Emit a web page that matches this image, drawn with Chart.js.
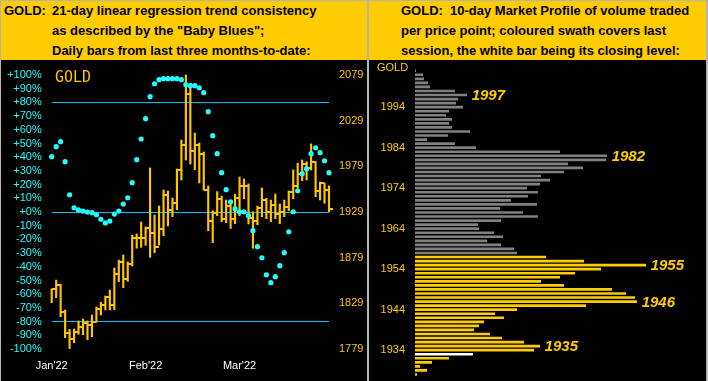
<!DOCTYPE html>
<html><head><meta charset="utf-8">
<script src="https://cdn.jsdelivr.net/npm/chart.js@4/dist/chart.umd.min.js"></script>
<style>
html,body{margin:0;padding:0;background:#b4b4b4;width:708px;height:381px;overflow:hidden;position:relative;font-family:"Liberation Sans",Arial,sans-serif;}
.blk{position:absolute;background:#000;}
.hdr{position:absolute;background:#FFCC00;}
.ht{position:absolute;white-space:pre;font:bold 13px "Liberation Sans",Arial,sans-serif;color:#000;line-height:20px;}
canvas{position:absolute;}
.gold{position:absolute;white-space:pre;}
</style></head>
<body>
<div class="blk" style="left:1px;top:1px;width:366px;height:380px;"></div>
<div class="blk" style="left:369px;top:1px;width:337px;height:380px;"></div>
<div class="hdr" style="left:1px;top:1px;width:366px;height:59px;"></div>
<div class="hdr" style="left:369px;top:1px;width:337px;height:59px;"></div>
<div class="ht" style="left:4px;top:1px;">GOLD:</div>
<div class="ht" style="left:52px;top:1px;">21-day linear regression trend consistency</div>
<div class="ht" style="left:52px;top:21px;">as described by the "Baby Blues";</div>
<div class="ht" style="left:52px;top:41px;">Daily bars from last three months-to-date:</div>
<div class="ht" style="left:401px;top:1px;">GOLD:</div>
<div class="ht" style="left:450px;top:1px;">10-day Market Profile of volume traded</div>
<div class="ht" style="left:401px;top:21px;">per price point; coloured swath covers last</div>
<div class="ht" style="left:401px;top:41px;">session, the white bar being its closing level:</div>
<canvas id="cl" width="366" height="321" style="left:1px;top:60px;"></canvas>
<canvas id="cr" width="337" height="321" style="left:369px;top:60px;"></canvas>
<div class="gold" style="left:55px;top:69px;font:15px 'DejaVu Sans Mono',monospace;line-height:16px;color:#FFC400;">GOLD</div>
<div class="gold" style="left:377px;top:60px;font:11px 'Liberation Sans',Arial,sans-serif;line-height:14px;color:#FFCC00;">GOLD</div>
<script>
// ---------- Left chart data ----------
const monthLabels = ["Jan'22", "Feb'22", "Mar'22"];
const monthStartIdx = [0, 21, 42];
const highs = [1844.7,1854.5,1849.8,1821.7,1800.5,1800.9,1809.7,1811.8,1809.7,1816.2,
  1825.0,1830.1,1837.0,1843.6,1867.7,1876.4,1881.9,1874.3,1903.5,1904.9,
  1918.0,1912.6,1977.2,1925.7,1935.6,1953.1,1952.0,1944.3,1976.1,2007.8,
  2079.0,2069.1,2015.5,2004.5,1994.7,1957.5,1930.4,1951.3,1946.5,1942.1,
  1940.3,1948.4,1967.3,1965.1,1959.7,1929.3,1935.6,1955.3,1944.0,1942.1,
  1948.7,1937.8,1942.1,1952.0,1975.0,1982.6,1985.9,1984.1,2003.5,1984.3,
  1961.8,1960.8,1957.5];
const lows = [1829.7,1835.2,1814.4,1791.4,1779.4,1785.9,1795.1,1794.7,1789.2,1792.5,
  1808.2,1816.2,1821.7,1821.7,1822.0,1852.7,1846.1,1853.1,1869.9,1889.3,
  1890.3,1892.5,1879.4,1884.4,1892.9,1903.1,1913.7,1923.9,1931.5,1964.0,
  1985.9,1981.6,1975.3,1960.8,1953.1,1908.5,1895.4,1925.0,1918.4,1917.3,
  1911.1,1916.2,1925.0,1943.6,1915.9,1889.3,1915.1,1923.9,1921.7,1918.4,
  1921.7,1916.2,1923.9,1930.4,1943.6,1955.6,1963.3,1964.0,1975.0,1945.8,
  1942.1,1938.5,1929.3];
const closes = [1844.4,1848.7,1819.8,1796.9,1790.3,1797.9,1802.8,1807.8,1805.6,1808.9,
  1822.5,1827.5,1835.6,1827.5,1861.4,1873.9,1856.0,1872.4,1900.9,1900.9,
  1900.9,1911.8,1906.3,1891.0,1910.7,1947.6,1931.5,1939.2,1975.3,2002.4,
  2058.2,1995.8,2002.7,1992.8,1953.4,1919.5,1928.2,1943.6,1921.7,1935.9,
  1921.7,1944.7,1957.8,1957.8,1922.8,1919.5,1933.7,1942.5,1929.3,1937.0,
  1927.1,1929.3,1934.8,1951.3,1957.8,1970.9,1982.1,1977.2,1983.2,1952.3,
  1961.0,1953.6,1932.0];
const babyBlues = [40.4,47.7,51.3,36.7,12.6,3.1,1.5,0.7,0,-0.5,
  -2,-5.3,-8.0,-6.6,-1.5,0.7,5.8,10.4,21.4,38.2,
  53.3,68.1,84.2,93.6,96.6,97.3,97.3,97.3,97.3,96.6,
  92.9,92.2,92.2,90.7,87.1,73.2,55.7,42.6,28.7,16.3,
  7.5,2.4,0.2,0.2,-2.7,-13.6,-25.3,-33.4,-45.8,-51.6,
  -47.2,-39.2,-29.7,-14.4,0.2,15.5,28,31.6,42.6,46.9,
  43.3,37.4,28.7];
const pctRefLines = [80, 0, -80];
const priceTicks = [2079, 2029, 1979, 1929, 1879, 1829, 1779];

// ---------- Right chart data ----------
const priceLevels = [2003,2002,2001,2000,1999,1998,1997,1996,1995,1994,
  1993,1992,1991,1990,1989,1988,1987,1986,1985,1984,
  1983,1982,1981,1980,1979,1978,1977,1976,1975,1974,
  1973,1972,1971,1970,1969,1968,1967,1966,1965,1964,
  1963,1962,1961,1960,1959,1958,1957,1956,1955,1954,
  1953,1952,1951,1950,1949,1948,1947,1946,1945,1944,
  1943,1942,1941,1940,1939,1938,1937,1936,1935,1934,
  1933,1932,1931,1930,1929,1928];
const volume = [2,23,26,38,44,119,155,128,122,143,
  101,92,110,101,110,164,98,35,119,182,
  434,575,572,458,503,446,377,404,374,335,
  368,338,287,365,254,323,368,257,188,191,
  236,263,215,257,296,305,392,506,692,557,
  479,434,377,446,590,632,659,665,512,305,
  239,266,206,191,176,224,260,326,374,356,
  173,101,50,14,35,5];
const sessionLow = 1928, sessionHigh = 1957, closeLevel = 1933;
const labeledLevels = [1997, 1982, 1955, 1946, 1935];
const profileTickLevels = [1994, 1984, 1974, 1964, 1954, 1944, 1934];

// ---------- styles ----------
const CYAN = '#22FFFF', LINE = '#00BFFF', BAR = '#FFC400', YEL = '#FFCC00', GRAY = '#808080';
const FONT = "'Liberation Sans', Arial, sans-serif";
Chart.defaults.font.family = FONT;
Chart.defaults.font.size = 11;

const categories = highs.map((_, i) => {
  const k = monthStartIdx.indexOf(i);
  return k >= 0 ? monthLabels[k] : '';
});

const closeTick = document.createElement('canvas');
closeTick.width = 8; closeTick.height = 2;
const tctx = closeTick.getContext('2d');
tctx.fillStyle = BAR; tctx.fillRect(4, 0, 4, 2);

function fixVertical(w) {
  return s => { s.width = w; s.paddingTop = 0; s.paddingBottom = 0; };
}

new Chart(document.getElementById('cl'), {
  type: 'bar',
  data: {
    labels: categories,
    datasets: [
      { type: 'line', data: babyBlues, yAxisID: 'yL', showLine: false, pointStyle: 'circle',
        pointRadius: 2.6, pointBackgroundColor: CYAN, pointBorderWidth: 0, order: 0, clip: false },
      { type: 'line', data: closes, yAxisID: 'yR', showLine: false, pointStyle: closeTick,
        pointRadius: 4, order: 1, clip: false },
      { type: 'bar', data: highs.map((h, i) => [lows[i], h]), yAxisID: 'yR',
        backgroundColor: BAR, barThickness: 1.5, order: 2, clip: false }
    ]
  },
  options: {
    responsive: false, animation: false, devicePixelRatio: 1,
    layout: { padding: { top: 15, left: 0, right: 0, bottom: 0 } },
    plugins: { legend: { display: false }, tooltip: { enabled: false } },
    scales: {
      x: { offset: false, grid: { display: false }, border: { display: false },
        ticks: { autoSkip: false, maxRotation: 0, color: '#ffffff', padding: 2, font: { size: 11 } },
        afterFit: s => { s.height = 32; s.paddingLeft = 0; s.paddingRight = 0; } },
      yL: { position: 'left', min: -100, max: 100,
        ticks: { stepSize: 10, autoSkip: false, color: CYAN, padding: 10, font: { size: 11 },
          callback: v => (v >= 0 ? '+' : '') + v + '%' },
        grid: { drawTicks: false, lineWidth: 1,
          color: c => pctRefLines.includes(c.tick.value) ? LINE : 'rgba(0,0,0,0)' },
        border: { display: false },
        afterFit: fixVertical(50.7) },
      yR: { position: 'right', min: 1779, max: 2079,
        afterBuildTicks: s => { s.ticks = priceTicks.map(v => ({ value: v })); },
        ticks: { autoSkip: false, color: BAR, padding: 10, font: { size: 11 },
          callback: v => String(v) },
        grid: { display: false, drawTicks: false }, border: { display: false },
        afterFit: fixVertical(38) }
    }
  }
});

const levelLabels = {
  id: 'levelLabels',
  afterDatasetsDraw(chart) {
    const ctx = chart.ctx, meta = chart.getDatasetMeta(0);
    ctx.save();
    ctx.font = "italic bold 15px " + FONT;
    ctx.fillStyle = YEL;
    ctx.textBaseline = 'middle';
    ctx.textAlign = 'left';
    labeledLevels.forEach(p => {
      const el = meta.data[priceLevels.indexOf(p)];
      ctx.fillText(String(p), el.x + 5, el.y + 1);
    });
    ctx.restore();
  }
};

new Chart(document.getElementById('cr'), {
  type: 'bar',
  data: {
    labels: priceLevels.map(String),
    datasets: [{
      data: volume,
      backgroundColor: priceLevels.map(p => p === closeLevel ? '#ffffff' :
        (p >= sessionLow && p <= sessionHigh ? YEL : GRAY)),
      barThickness: 2, borderWidth: 0
    }]
  },
  options: {
    indexAxis: 'y', responsive: false, animation: false, devicePixelRatio: 1,
    layout: { padding: { top: 8.7, bottom: 4.5, left: 0, right: 0 } },
    plugins: { legend: { display: false }, tooltip: { enabled: false } },
    scales: {
      x: { display: false, min: 0, max: 873 },
      y: { grid: { display: false, drawTicks: false }, border: { display: false },
        ticks: { autoSkip: false, color: YEL, padding: 10, font: { size: 11 },
          callback: (v, i) => profileTickLevels.includes(priceLevels[i]) ? String(priceLevels[i]) : '' },
        afterFit: fixVertical(46) }
    }
  },
  plugins: [levelLabels]
});
</script>
</body></html>
